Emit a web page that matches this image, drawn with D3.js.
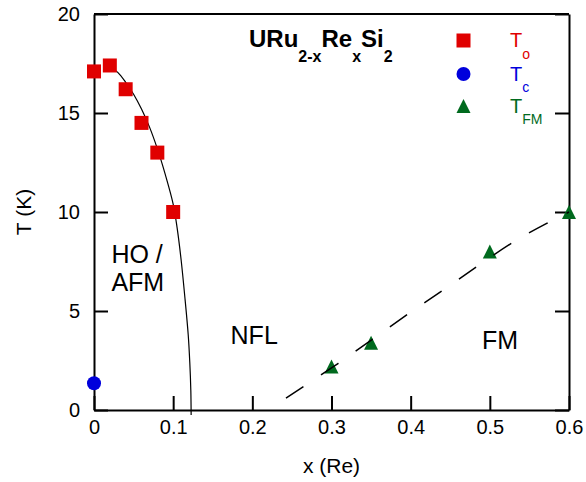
<!DOCTYPE html>
<html>
<head>
<meta charset="utf-8">
<script src="https://cdn.jsdelivr.net/npm/d3@7"></script>
<style>
  body { margin: 0; background: #fff; }
  svg { display: block; font-family: Arial, "Liberation Sans", sans-serif; }
</style>
</head>
<body>
<svg id="chart" width="586" height="482"></svg>
<script>
// T0 (hidden order) points
const xTo = [0, 0.02, 0.04, 0.06, 0.08, 0.1];
const tTo = [17.1, 17.4, 16.2, 14.5, 13.0, 10.0];
// Tc (superconducting)
const xTc = [0];
const tTc = [1.35];
// T_FM (ferromagnetic)
const xFM = [0.3, 0.35, 0.5, 0.6];
const tFM = [2.2, 3.4, 8.0, 10.0];

// guide lines
const fitX = [0.02, 0.03, 0.04, 0.05, 0.06, 0.07, 0.08, 0.09, 0.1, 0.105, 0.11, 0.115, 0.119, 0.121, 0.1223, 0.1227];
const fitT = [17.35, 17.05, 16.55, 15.95, 15.2, 14.3, 13.2, 11.9, 10.4, 9.2, 7.6, 5.6, 3.8, 2.4, 1.0, -0.25];
const dashX = [0.2425, 0.3086, 0.395, 0.4412, 0.534, 0.6];
const dashT = [0.6, 2.36, 4.8, 6.06, 8.59, 10.0];

const xTicks = [0, 0.1, 0.2, 0.3, 0.4, 0.5, 0.6];
const yTicks = [0, 5, 10, 15, 20];

const regions = [
  { lines: ["HO /", "AFM"], x: 0.022, t: [7.4, 6.0] },
  { lines: ["NFL"], x: 0.1725, t: [3.35] },
  { lines: ["FM"], x: 0.49, t: [3.1] }
];

const RED = "#e00000", BLUE = "#0000dc", GREEN = "#006a1e";

const svg = d3.select("#chart");
const m = { left: 94, right: 569, top: 14, bottom: 410 };

const x = d3.scaleLinear().domain([0, 0.6]).range([m.left, m.right]);
const y = d3.scaleLinear().domain([0, 20]).range([m.bottom, m.top]);

const fmt = d => d === 0 ? "0" : d3.format(".1f")(d);

// 1. Axes (ticks point inward)
const gx = svg.append("g").attr("transform", `translate(0,${m.bottom})`)
  .call(d3.axisBottom(x).tickValues(xTicks).tickFormat(fmt).tickSizeInner(-14).tickSizeOuter(0).tickPadding(10));
const gy = svg.append("g").attr("transform", `translate(${m.left},0)`)
  .call(d3.axisLeft(y).tickValues(yTicks).tickSizeInner(-14).tickSizeOuter(0).tickPadding(14));
const gr = svg.append("g").attr("transform", `translate(${m.right},0)`)
  .call(d3.axisRight(y).tickValues(yTicks).tickFormat("").tickSizeInner(-14).tickSizeOuter(0));

[gx, gy, gr].forEach(g => {
  g.selectAll("path, line").attr("stroke", "#000").attr("stroke-width", 2);
  g.selectAll("text").attr("fill", "#000").attr("font-size", 20)
    .attr("font-family", "Arial, 'Liberation Sans', sans-serif");
});

svg.append("line")
  .attr("x1", m.left).attr("x2", m.right).attr("y1", m.top).attr("y2", m.top)
  .attr("stroke", "#000").attr("stroke-width", 2);

// axis titles
svg.append("text").attr("x", x(0.3)).attr("y", 473).attr("text-anchor", "middle")
  .attr("font-size", 21).text("x (Re)");
svg.append("text").attr("transform", "translate(31,212) rotate(-90)").attr("text-anchor", "middle")
  .attr("font-size", 21).text("T (K)");

// 2. Solid fit line under the squares
const line = d3.line().x(d => x(d[0])).y(d => y(d[1])).curve(d3.curveCatmullRom);
svg.append("path").datum(d3.zip(fitX, fitT))
  .attr("d", line).attr("fill", "none").attr("stroke", "#000").attr("stroke-width", 1.2);

// 3. Markers
svg.selectAll(".sq").data(d3.zip(xTo, tTo)).join("rect")
  .attr("class", "sq")
  .attr("x", d => x(d[0]) - 7).attr("y", d => y(d[1]) - 7)
  .attr("width", 14).attr("height", 14).attr("fill", RED);

svg.selectAll(".dot").data(d3.zip(xTc, tTc)).join("circle")
  .attr("class", "dot")
  .attr("cx", d => x(d[0])).attr("cy", d => y(d[1])).attr("r", 7).attr("fill", BLUE);

const tri = "M0,-7L7,7L-7,7Z";
svg.selectAll(".tri").data(d3.zip(xFM, tFM)).join("path")
  .attr("class", "tri")
  .attr("transform", d => `translate(${x(d[0])},${y(d[1])})`)
  .attr("d", tri).attr("fill", GREEN);

// 4. Dashed FM line drawn on top
svg.append("path").datum(d3.zip(dashX, dashT))
  .attr("d", line).attr("fill", "none").attr("stroke", "#000")
  .attr("stroke-width", 1.5).attr("stroke-dasharray", "21,21");

// 5. Region labels
regions.forEach(r => {
  r.lines.forEach((s, i) => {
    svg.append("text").attr("x", x(r.x)).attr("y", y(r.t[i])).attr("font-size", 25).text(s);
  });
});

// 6. Title with subscripts
const title = svg.append("text").attr("x", 249).attr("y", 47)
  .attr("font-size", 24).attr("font-weight", "bold");
[["URu", false], ["2-x", true], ["Re", false], ["x", true], ["Si", false], ["2", true]].forEach(([s, sub], i, arr) => {
  const prevSub = i > 0 && arr[i - 1][1];
  title.append("tspan")
    .attr("dy", sub ? 15 : (prevSub ? -15 : 0))
    .attr("font-size", sub ? 16 : 24)
    .text(s);
});

// 7. Legend
const legend = [
  { sym: "square", color: RED, sub: "o", y: 40.5 },
  { sym: "circle", color: BLUE, sub: "c", y: 74 },
  { sym: "triangle", color: GREEN, sub: "FM", y: 106 }
];
const lg = svg.append("g");
legend.forEach(l => {
  if (l.sym === "square") {
    lg.append("rect").attr("x", 463.5 - 7).attr("y", l.y - 7).attr("width", 14).attr("height", 14).attr("fill", l.color);
  } else if (l.sym === "circle") {
    lg.append("circle").attr("cx", 463.5).attr("cy", l.y).attr("r", 7).attr("fill", l.color);
  } else {
    lg.append("path").attr("transform", `translate(463.5,${l.y})`).attr("d", tri).attr("fill", l.color);
  }
  const t = lg.append("text").attr("x", 510).attr("y", l.y + 6.5).attr("fill", l.color).attr("font-size", 20);
  t.append("tspan").text("T");
  t.append("tspan").attr("dy", 11.5).attr("font-size", 14).text(l.sub);
});
</script>
</body>
</html>
